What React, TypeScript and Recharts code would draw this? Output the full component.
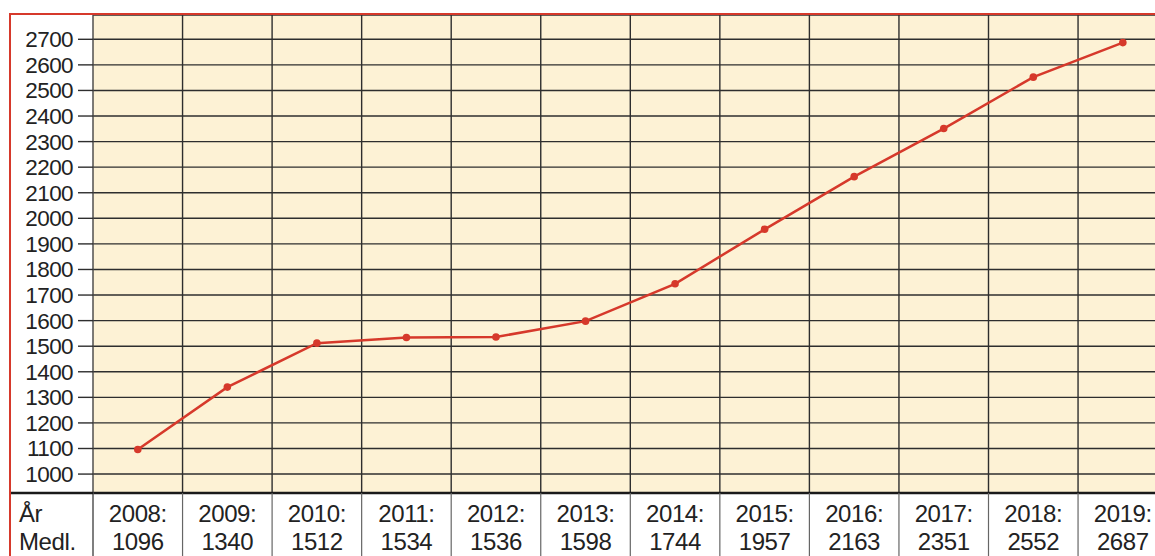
import React from 'react'
import { LineChart, Line, XAxis, YAxis, CartesianGrid, ReferenceLine } from 'recharts'

// Medlemsutveckling 2008-2019
const years = [2008, 2009, 2010, 2011, 2012, 2013, 2014, 2015, 2016, 2017, 2018, 2019]
const members = [1096, 1340, 1512, 1534, 1536, 1598, 1744, 1957, 2163, 2351, 2552, 2687]
const yTicks = [1000, 1100, 1200, 1300, 1400, 1500, 1600, 1700, 1800, 1900, 2000, 2100, 2200, 2300, 2400, 2500, 2600, 2700]
const rowLabels = ['År', 'Medl.']

const data = years.map((year, i) => ({ year, members: members[i] }))

const CHART_W = 1200
const CHART_H = 600
const YAXIS_W = 93
const COL_W = 89.55
const MARGIN_RIGHT = CHART_W - YAXIS_W - COL_W * years.length
const RED = '#d6392b'
const GRID = '#2e2e2e'
const FONT = "'Liberation Sans', Arial, sans-serif"

const TableTick = (props: any) => {
  const { x, y, payload } = props
  const i = years.indexOf(payload.value)
  const left = x - COL_W / 2
  const right = x + COL_W / 2
  const txt = { fontFamily: FONT, fontSize: 24, fill: '#222', letterSpacing: -0.4 }
  return (
    <g>
      {i === 0 && (
        <g>
          <line x1={left} x2={left} y1={y} y2={y + 80} stroke="#555" strokeWidth={1.5} />
          <line x1={11} x2={left} y1={y} y2={y} stroke="#1a1a1a" strokeWidth={2.5} />
          <text x={19} y={y + 29} {...txt}>{rowLabels[0]}</text>
          <text x={19} y={y + 57} {...txt}>{rowLabels[1]}</text>
        </g>
      )}
      <line x1={right} x2={right} y1={y} y2={y + 80} stroke="#666" strokeWidth={1.2} />
      <text x={x} y={y + 29} textAnchor="middle" {...txt}>{payload.value}:</text>
      <text x={x} y={y + 57} textAnchor="middle" {...txt}>{members[i]}</text>
    </g>
  )
}

export default function App() {
  return (
    <div style={{ position: 'absolute', left: 0, top: 0, width: 1155, height: 556, overflow: 'hidden', background: '#fff' }}>
      <LineChart
        width={CHART_W}
        height={CHART_H}
        data={data}
        margin={{ top: 15, right: MARGIN_RIGHT, left: 0, bottom: 0 }}
      >
        <CartesianGrid vertical={false} fill="#fdf2d5" stroke={GRID} strokeWidth={1.4} />
        {years.slice(1).map((yr) => (
          <ReferenceLine key={yr} x={yr - 0.5} stroke={GRID} strokeWidth={1.4} />
        ))}
        <XAxis
          type="number"
          dataKey="year"
          domain={[years[0] - 0.5, years[years.length - 1] + 0.5]}
          ticks={years}
          interval={0}
          height={CHART_H - 493}
          tickLine={false}
          tickSize={0}
          tickMargin={0}
          axisLine={{ stroke: '#1a1a1a', strokeWidth: 2.5 }}
          tick={<TableTick />}
        />
        <YAxis
          type="number"
          domain={[926, 2795]}
          allowDataOverflow
          ticks={yTicks}
          interval={0}
          width={YAXIS_W}
          tickSize={15}
          tickMargin={5}
          tickLine={{ stroke: GRID, strokeWidth: 1.4 }}
          axisLine={{ stroke: '#444', strokeWidth: 1.4 }}
          tick={{ fontFamily: FONT, fontSize: 22.5, fill: '#222', letterSpacing: -0.6 }}
        />
        <Line
          type="linear"
          dataKey="members"
          stroke={RED}
          strokeWidth={2.5}
          dot={{ r: 3.8, fill: RED, stroke: 'none' }}
          isAnimationActive={false}
        />
      </LineChart>
      <div
        style={{
          position: 'absolute',
          left: 9,
          top: 13,
          width: 1400,
          height: 800,
          borderLeft: `2.5px solid ${RED}`,
          borderTop: `2.5px solid ${RED}`,
          pointerEvents: 'none',
        }}
      />
    </div>
  )
}
